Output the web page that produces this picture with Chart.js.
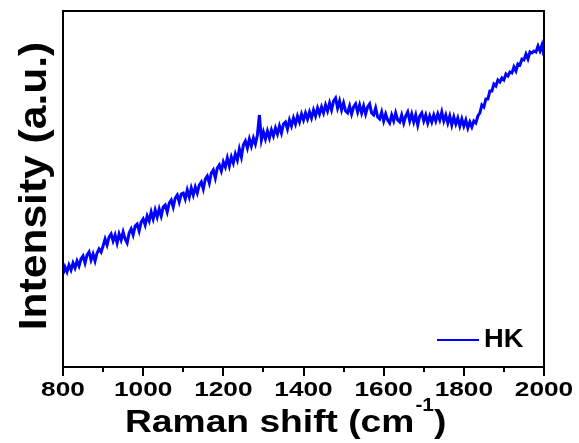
<!DOCTYPE html>
<html>
<head>
  <title>Raman spectrum HK</title>
  <script src="https://cdn.jsdelivr.net/npm/chart.js"></script>
  <style>
    body { margin: 0; background: #fff; }
  </style>
</head>
<body>
  <canvas id="raman-chart" width="579" height="443"></canvas>
  <script>
    // sampling grid of the spectrum (cm-1)
    var shiftStart = 800;
    var shiftStep = 5;
    // intensity, arbitrary units, one value every 5 cm-1
    var intensityHK = [
      93, 100, 95, 102, 97, 104, 99, 106, 101, 108, 111, 104, 112, 115, 107, 113, 106, 114, 118, 115,
      121, 128, 122, 130, 133, 126, 132, 124, 133, 127, 135, 128, 124, 134, 138, 132, 141, 143, 136, 145,
      148, 142, 151, 146, 155, 148, 157, 150, 158, 151, 160, 162, 155, 164, 167, 160, 169, 172, 165, 173,
      174, 168, 177, 170, 179, 172, 180, 174, 182, 185, 178, 188, 191, 184, 194, 197, 189, 199, 202, 196,
      205, 200, 209, 201, 210, 204, 213, 207, 218, 210, 222, 226, 219, 228, 221, 229, 223, 232, 252, 227,
      235, 228, 236, 229, 237, 231, 239, 233, 241, 234, 243, 245, 238, 247, 241, 249, 243, 251, 245, 253,
      247, 254, 248, 255, 249, 257, 251, 259, 253, 260, 254, 262, 256, 264, 257, 266, 269, 259, 266, 257,
      264, 256, 254, 261, 253, 260, 263, 255, 262, 254, 261, 253, 260, 263, 254, 252, 259, 250, 248, 255,
      246, 253, 247, 244, 252, 246, 254, 247, 245, 252, 244, 251, 255, 246, 253, 245, 252, 242, 251, 254,
      246, 252, 244, 251, 245, 252, 246, 253, 247, 255, 246, 252, 244, 251, 242, 250, 243, 249, 241, 248,
      241, 247, 239, 245, 240, 246, 244, 251, 254, 262, 260, 268, 268, 276, 276, 283, 281, 287, 285, 289,
      287, 293, 291, 295, 294, 300, 296, 303, 302, 308, 307, 313, 308, 315, 314, 316, 315, 321, 316, 322,
      311
    ];
    var xTickLabels = [800, 1000, 1200, 1400, 1600, 1800, 2000];
    var xMinorTicks = [900, 1100, 1300, 1500, 1700, 1900];
    var seriesName = 'HK';

    var points = intensityHK.map(function(v, i) {
      return { x: shiftStart + i * shiftStep, y: v };
    });

    // text drawn with a horizontal stretch to follow the original figure
    function stretchText(ctx, text, x, y, size, sx, align) {
      ctx.save();
      ctx.font = 'bold ' + size + 'px "Liberation Sans", Arial, sans-serif';
      ctx.fillStyle = '#000';
      ctx.textBaseline = 'alphabetic';
      var w = ctx.measureText(text).width * sx;
      var left = x;
      if (align === 'center') left = x - w / 2;
      if (align === 'right') left = x - w;
      ctx.translate(left, y);
      ctx.scale(sx, 1);
      ctx.textAlign = 'left';
      ctx.fillText(text, 0, 0);
      ctx.restore();
      return w;
    }

    var framePlugin = {
      id: 'frame',
      afterDraw: function(chart) {
        var ctx = chart.ctx;
        var a = chart.chartArea;
        var xs = chart.scales.x;
        ctx.save();
        ctx.strokeStyle = '#000';
        ctx.lineWidth = 2;
        ctx.strokeRect(a.left, a.top, a.right - a.left, a.bottom - a.top);
        // ticks below the axis
        xTickLabels.forEach(function(v) {
          var px = Math.round(xs.getPixelForValue(v));
          ctx.beginPath();
          ctx.moveTo(px, a.bottom);
          ctx.lineTo(px, a.bottom + 9);
          ctx.stroke();
        });
        xMinorTicks.forEach(function(v) {
          var px = Math.round(xs.getPixelForValue(v));
          ctx.beginPath();
          ctx.moveTo(px, a.bottom);
          ctx.lineTo(px, a.bottom + 5);
          ctx.stroke();
        });
        ctx.restore();

        xTickLabels.forEach(function(v) {
          stretchText(ctx, String(v), xs.getPixelForValue(v), 396, 21, 1.25, 'center');
        });

        // x title with superscript
        var x0 = 125;
        x0 += stretchText(ctx, 'Raman shift (cm', x0, 432, 31, 1.2, 'left');
        x0 += stretchText(ctx, '-1', x0 + 1, 411, 19, 1.1, 'left') + 1;
        stretchText(ctx, ')', x0, 432, 31, 1.2, 'left');

        // y title
        ctx.save();
        ctx.translate(46, 186);
        ctx.rotate(-Math.PI / 2);
        stretchText(ctx, 'Intensity (a.u.)', 0, 0, 38, 1.12, 'center');
        ctx.restore();

        // legend
        ctx.save();
        ctx.strokeStyle = chart.data.datasets[0].borderColor;
        ctx.lineWidth = 2;
        ctx.beginPath();
        ctx.moveTo(437, 340);
        ctx.lineTo(479, 340);
        ctx.stroke();
        ctx.restore();
        stretchText(ctx, chart.data.datasets[0].label, 484, 347, 26, 1.05, 'left');
      }
    };

    var ctx = document.getElementById('raman-chart').getContext('2d');
    var chart = new Chart(ctx, {
      type: 'line',
      data: {
        datasets: [{
          label: seriesName,
          data: points,
          borderColor: '#0000ff',
          borderWidth: 3,
          pointRadius: 0,
          tension: 0,
          fill: false
        }]
      },
      options: {
        responsive: false,
        animation: false,
        layout: { padding: { left: 0, right: 35, top: 11, bottom: 0 } },
        plugins: {
          legend: { display: false },
          tooltip: { enabled: false }
        },
        scales: {
          x: {
            type: 'linear',
            min: 800,
            max: 2000,
            ticks: { display: false },
            grid: { display: false },
            border: { display: false },
            afterFit: function(scale) { scale.height = 76; }
          },
          y: {
            min: 0,
            max: 356,
            ticks: { display: false },
            grid: { display: false },
            border: { display: false },
            afterFit: function(scale) { scale.width = 63; }
          }
        }
      },
      plugins: [framePlugin]
    });
  </script>
</body>
</html>
